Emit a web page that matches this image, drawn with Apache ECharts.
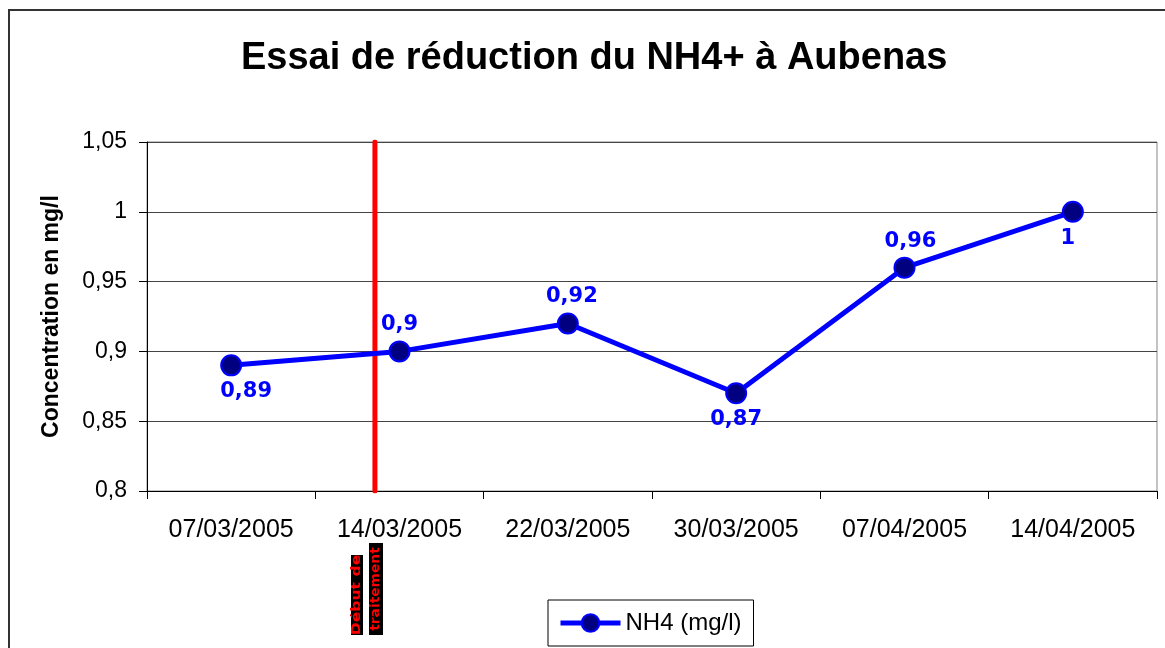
<!DOCTYPE html>
<html>
<head>
<meta charset="utf-8">
<script src="https://cdn.jsdelivr.net/npm/echarts@6/dist/echarts.min.js"></script>
<style>
  html, body { margin: 0; padding: 0; background: #fff; }
  #chart { width: 1165px; height: 648px; }
</style>
</head>
<body>
<div id="chart"></div>
<script>
// Sampling dates (category axis)
const categories = ['07/03/2005', '14/03/2005', '22/03/2005', '30/03/2005', '07/04/2005', '14/04/2005'];
// NH4 concentration in mg/l
const nh4Values = [0.89, 0.9, 0.92, 0.87, 0.96, 1];
// Start of treatment, expressed in category units along the date axis
const treatmentStart = 1.354;
// Value axis range
const yMin = 0.8, yMax = 1.05, yStep = 0.05;

// Where each value label sits around its marker
const labelPlacement = ['bottom', 'top', 'top', 'bottom', 'top', 'bottom'];
const labelShift = [[15, 0], [0, 0], [4, 0], [0, 0], [6, 0], [-5, 0]];

const fr = v => String(+(+v).toFixed(2)).replace('.', ',');

const chart = echarts.init(document.getElementById('chart'), null, { renderer: 'canvas' });

const grid = { left: 147, right: 8, top: 142, bottom: 157 };
const sans = 'Liberation Sans, Arial, sans-serif';

chart.setOption({
  animation: false,
  backgroundColor: '#ffffff',
  title: {
    text: 'Essai de réduction du NH4+ à Aubenas',
    left: 236,
    top: 35,
    textStyle: { fontFamily: sans, fontWeight: 'bold', fontSize: 38, color: '#000' }
  },
  grid: Object.assign({ show: true, borderColor: '#888', borderWidth: 1, backgroundColor: 'transparent' }, grid),
  legend: {
    data: ['NH4 (mg/l)'],
    left: 548,
    top: 600,
    padding: [11, 12, 11, 10],
    itemWidth: 60,
    itemHeight: 22,
    itemGap: 5,
    borderColor: '#000',
    borderWidth: 1,
    borderRadius: 0,
    lineStyle: { width: 5 },
    textStyle: { fontFamily: sans, fontSize: 24, color: '#000' }
  },
  xAxis: [
    {
      type: 'category',
      data: categories,
      boundaryGap: true,
      axisLine: { lineStyle: { color: '#000', width: 1 } },
      axisTick: { show: true, length: 8, lineStyle: { color: '#000' } },
      axisLabel: { margin: 27, color: '#000', fontFamily: sans, fontSize: 25, interval: 0 },
      splitLine: { show: false }
    },
    {
      type: 'value',
      min: 0,
      max: categories.length,
      show: false
    }
  ],
  yAxis: {
    type: 'value',
    min: yMin,
    max: yMax,
    interval: yStep,
    name: 'Concentration en mg/l',
    nameLocation: 'middle',
    nameGap: 84,
    nameTextStyle: { fontFamily: sans, fontWeight: 'bold', fontSize: 23, color: '#000' },
    axisLine: { show: true, lineStyle: { color: '#000', width: 1 } },
    axisTick: { show: true, length: 8, lineStyle: { color: '#000' } },
    axisLabel: { margin: 20, color: '#000', fontFamily: sans, fontSize: 23, formatter: fr },
    splitLine: { show: true, lineStyle: { color: '#444', width: 1 } }
  },
  series: [
    {
      name: 'début du traitement',
      type: 'line',
      xAxisIndex: 1,
      data: [[treatmentStart, yMin], [treatmentStart, yMax]],
      symbol: 'none',
      silent: true,
      lineStyle: { color: '#ff0000', width: 5, cap: 'round' },
      z: 3
    },
    {
      name: 'NH4 (mg/l)',
      type: 'line',
      data: nh4Values.map((v, i) => ({
        value: v,
        label: { position: labelPlacement[i], offset: labelShift[i] }
      })),
      symbol: 'circle',
      symbolSize: 20,
      lineStyle: { color: '#0000ff', width: 5 },
      itemStyle: { color: '#000080', borderColor: '#0000ff', borderWidth: 2 },
      label: {
        show: true,
        color: '#0000ff',
        fontFamily: 'DejaVu Sans, Verdana, sans-serif',
        fontWeight: 'bold',
        fontSize: 21,
        formatter: p => fr(p.value)
      },
      z: 4
    }
  ],
  graphic: [
    {
      type: 'rect',
      shape: { x: 9, y: 10, width: 1400, height: 900 },
      style: { fill: 'none', stroke: '#333', lineWidth: 2 },
      silent: true,
      z: 0
    },
    {
      type: 'rect',
      shape: { x: 351, y: 555, width: 12, height: 80 },
      style: { fill: '#000' }
    },
    {
      type: 'text',
      x: 357, y: 595,
      rotation: Math.PI / 2,
      scaleX: 1.3,
      style: {
        text: 'Début de',
        fill: '#ff0000',
        font: 'bold 12px "DejaVu Sans", sans-serif',
        textAlign: 'center',
        textVerticalAlign: 'middle'
      }
    },
    {
      type: 'rect',
      shape: { x: 369, y: 543, width: 14, height: 92 },
      style: { fill: '#000' }
    },
    {
      type: 'text',
      x: 376, y: 589,
      rotation: Math.PI / 2,
      scaleX: 1.15,
      style: {
        text: 'traitement',
        fill: '#ff0000',
        font: 'bold 12px "DejaVu Sans", sans-serif',
        textAlign: 'center',
        textVerticalAlign: 'middle'
      }
    }
  ]
});
</script>
</body>
</html>
